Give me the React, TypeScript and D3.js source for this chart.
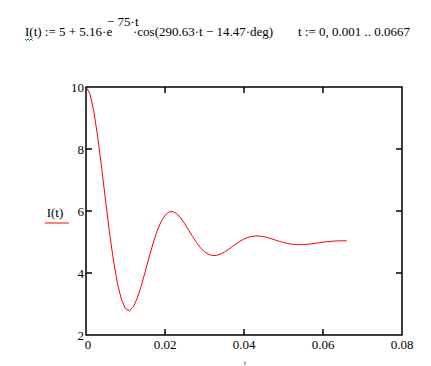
import React from 'react';
import * as d3 from 'd3';

// t := 0, 0.001 .. 0.0667  (seconds)
const times = [
  0, 0.001, 0.002, 0.003, 0.004, 0.005, 0.006, 0.007, 0.008, 0.009,
  0.01, 0.011, 0.012, 0.013, 0.014, 0.015, 0.016, 0.017, 0.018, 0.019,
  0.02, 0.021, 0.022, 0.023, 0.024, 0.025, 0.026, 0.027, 0.028, 0.029,
  0.03, 0.031, 0.032, 0.033, 0.034, 0.035, 0.036, 0.037, 0.038, 0.039,
  0.04, 0.041, 0.042, 0.043, 0.044, 0.045, 0.046, 0.047, 0.048, 0.049,
  0.05, 0.051, 0.052, 0.053, 0.054, 0.055, 0.056, 0.057, 0.058, 0.059,
  0.06, 0.061, 0.062, 0.063, 0.064, 0.065, 0.066,
];

// I(t)
const current = [
  9.996, 9.784, 9.204, 8.355, 7.347, 6.283, 5.261, 4.36, 3.638, 3.13,
  2.847, 2.783, 2.911, 3.196, 3.59, 4.047, 4.519, 4.965, 5.352, 5.656,
  5.863, 5.97, 5.981, 5.909, 5.772, 5.59, 5.384, 5.175, 4.98, 4.815,
  4.687, 4.604, 4.565, 4.567, 4.605, 4.671, 4.755, 4.847, 4.94, 5.024,
  5.095, 5.148, 5.181, 5.195, 5.19, 5.171, 5.14, 5.101, 5.06, 5.019,
  4.983, 4.953, 4.931, 4.918, 4.913, 4.917, 4.926, 4.941, 4.958, 4.977,
  4.995, 5.01, 5.023, 5.032, 5.037, 5.039, 5.036,
];

const xTicks = [0, 0.02, 0.04, 0.06, 0.08];
const xTickLabels = ['0', '0.02', '0.04', '0.06', '0.08'];
const yTicks = [2, 4, 6, 8, 10];
const yTickLabels = ['2', '4', '6', '8', '10'];

const FONT = '"Liberation Serif", "Times New Roman", serif';

export default function App() {
  const left = 86, right = 402, top = 87, bottom = 335;
  const x = d3.scaleLinear().domain([0, 0.08]).range([left, right]);
  const y = d3.scaleLinear().domain([2, 10]).range([bottom, top]);

  const line = d3.line<number>()
    .x((_, i) => x(times[i]))
    .y((d) => y(d));

  const tick = 6;
  const innerX = xTicks.slice(1, -1);
  const innerY = yTicks.slice(1, -1);

  return (
    <svg width={431} height={366} style={{ position: 'absolute', left: 0, top: 0, background: '#fff' }}>
      {/* formula header */}
      <g fontFamily={FONT} fontSize={13} fill="#000">
        <text x={25} y={36}>I(t) := 5 + 5.16·e</text>
        <text x={107} y={26}>− 75·t</text>
        <text x={133} y={36}>·cos(290.63·t − 14.47·deg)</text>
        <text x={298} y={36}>t := 0, 0.001 .. 0.0667</text>
      </g>
      <path d="M25,39 l1.5,1.5 l1.5,-1.5 l1.5,1.5 l1.5,-1.5 l1.5,1.5" fill="none" stroke="#008000" strokeWidth={1} />

      {/* curve */}
      <path d={line(current) ?? ''} fill="none" stroke="#ff0000" strokeWidth={1} />

      {/* frame */}
      <rect x={left} y={top} width={right - left} height={bottom - top} fill="none" stroke="#000" strokeWidth={1.5} />
      {innerX.map((v) => (
        <g key={'x' + v} stroke="#000" strokeWidth={1.5}>
          <line x1={x(v)} x2={x(v)} y1={bottom} y2={bottom - tick} />
          <line x1={x(v)} x2={x(v)} y1={top} y2={top + tick} />
        </g>
      ))}
      {innerY.map((v) => (
        <g key={'y' + v} stroke="#000" strokeWidth={1.5}>
          <line x1={left} x2={left + tick} y1={y(v)} y2={y(v)} />
          <line x1={right} x2={right - tick} y1={y(v)} y2={y(v)} />
        </g>
      ))}

      {/* tick labels */}
      <g fontFamily={FONT} fontSize={13} fill="#000">
        {xTicks.map((v, i) => (
          <text key={'xl' + v} x={i === 0 ? x(v) + 2 : x(v)} y={bottom + 14} textAnchor="middle">
            {xTickLabels[i]}
          </text>
        ))}
        {yTicks.map((v, i) => (
          <text key={'yl' + v} x={left - 2} y={y(v) + 4.5} textAnchor="end">
            {yTickLabels[i]}
          </text>
        ))}
      </g>

      {/* axis labels */}
      <text x={55} y={217} fontFamily={FONT} fontSize={13} textAnchor="middle">I(t)</text>
      <line x1={45} x2={69} y1={223} y2={223} stroke="#ff0000" strokeWidth={1} />
      <text x={245} y={365} fontFamily={FONT} fontSize={7} textAnchor="middle">t</text>
    </svg>
  );
}
